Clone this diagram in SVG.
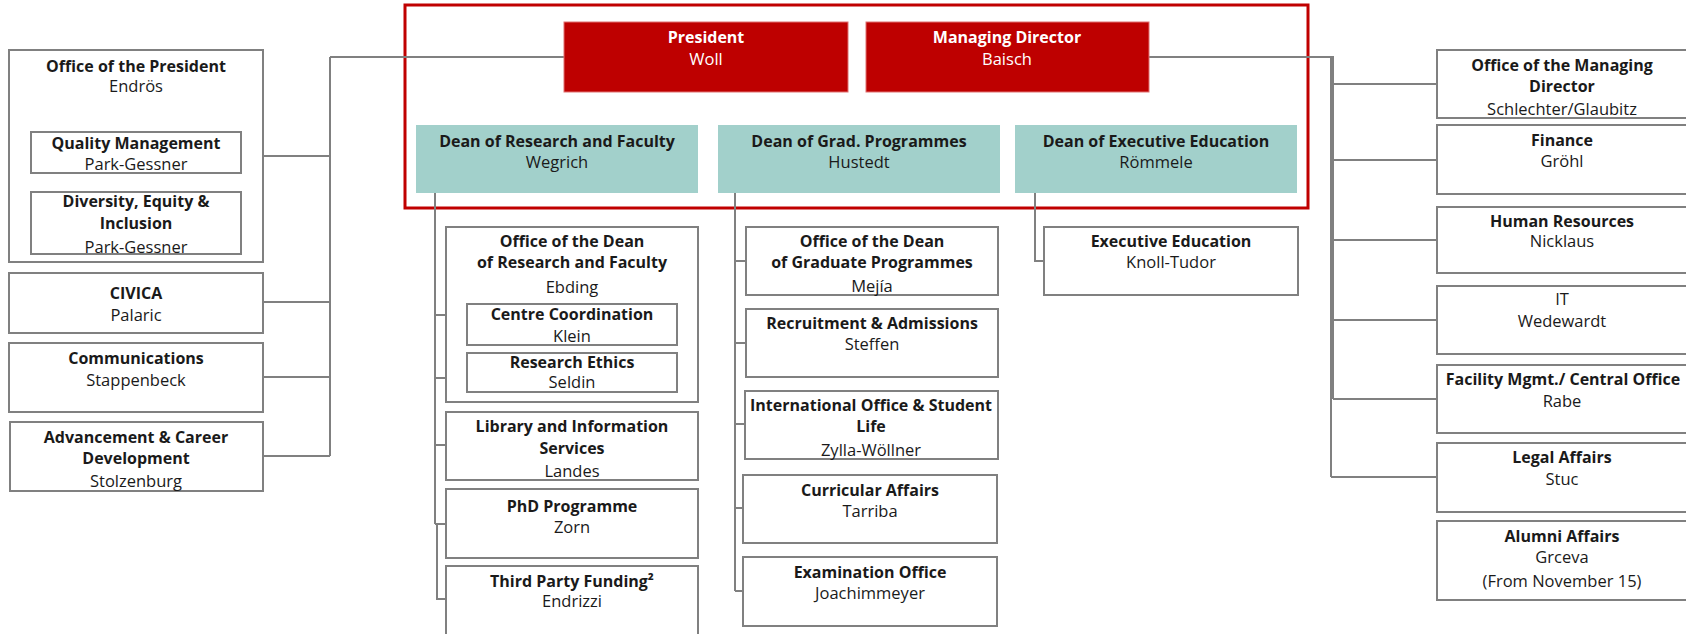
<svg xmlns="http://www.w3.org/2000/svg" width="1686" height="634" viewBox="0 0 1686 634">
<style>
text{font-family:"Open Sans","Liberation Sans",sans-serif;font-size:16.5px;text-anchor:middle;fill:#1a1a1a}
.b{font-weight:bold;font-size:16px}
.w{fill:#ffffff}
.box{fill:#ffffff;stroke:#808080;stroke-width:2}
.red{fill:#BE0000;stroke:#E07070;stroke-width:1}
.teal{fill:#A2D0CB}
.ln{stroke:#808080;stroke-width:2;fill:none}
</style>
<rect x="0" y="0" width="1686" height="634" fill="#ffffff"/>
<rect x="405" y="5" width="903" height="203" fill="none" stroke="#C00000" stroke-width="3"/>
<g id="connectors">
<path class="ln" d="M330 57H564 M330 57V456 M263 156H330 M263 302H330 M263 377H330 M263 456H330"/>
<path class="ln" d="M1149 57H1334 M1333 57V399 M1331 57V477 M1333 84H1437 M1333 160H1437 M1333 240H1437 M1333 320H1437 M1333 399H1437 M1331 477H1437"/>
<path class="ln" d="M435 193V524 M437 524V600 M435 315H446 M435 378H446 M435 445H446 M435 524H446 M437 599H446"/>
<path class="ln" d="M735 193V591 M735 261H746 M735 343H746 M735 424H746 M735 508H746 M735 591H746"/>
<path class="ln" d="M1035 193V261H1044"/>
</g>
<g id="president"><rect class="red" x="564" y="22" width="284" height="70"/><text class="b w" x="706" y="43">President</text><text class="w" x="706" y="65">Woll</text></g>
<g id="managing-director"><rect class="red" x="866" y="22" width="283" height="70"/><text class="b w" x="1007" y="43">Managing Director</text><text class="w" x="1007" y="65">Baisch</text></g>
<g id="dean-research"><rect class="teal" x="416" y="125" width="282" height="68"/><text class="b" x="557" y="147">Dean of Research and Faculty</text><text x="557" y="168">Wegrich</text></g>
<g id="dean-grad"><rect class="teal" x="718" y="125" width="282" height="68"/><text class="b" x="859" y="147">Dean of Grad. Programmes</text><text x="859" y="168">Hustedt</text></g>
<g id="dean-exec"><rect class="teal" x="1015" y="125" width="282" height="68"/><text class="b" x="1156" y="147">Dean of Executive Education</text><text x="1156" y="168">Römmele</text></g>

<g id="office-president"><rect class="box" x="9" y="50" width="254" height="212"/><text class="b" x="136" y="72">Office of the President</text><text x="136" y="92">Endrös</text></g>
<g id="quality"><rect class="box" x="31" y="132" width="210" height="41"/><text class="b" x="136" y="149">Quality Management</text><text x="136" y="170">Park-Gessner</text></g>
<g id="diversity"><rect class="box" x="31" y="192" width="210" height="62"/><text class="b" x="136" y="207">Diversity, Equity &amp;</text><text class="b" x="136" y="229">Inclusion</text><text x="136" y="253">Park-Gessner</text></g>
<g id="civica"><rect class="box" x="9" y="273" width="254" height="60"/><text class="b" x="136" y="299">CIVICA</text><text x="136" y="321">Palaric</text></g>
<g id="communications"><rect class="box" x="9" y="343" width="254" height="69"/><text class="b" x="136" y="364">Communications</text><text x="136" y="386">Stappenbeck</text></g>
<g id="advancement"><rect class="box" x="10" y="422" width="253" height="69"/><text class="b" x="136" y="443">Advancement &amp; Career</text><text class="b" x="136" y="464">Development</text><text x="136" y="487">Stolzenburg</text></g>

<g id="office-dean-research"><rect class="box" x="446" y="227" width="252" height="175"/><text class="b" x="572" y="247">Office of the Dean</text><text class="b" x="572" y="268">of Research and Faculty</text><text x="572" y="293">Ebding</text></g>
<g id="centre-coordination"><rect class="box" x="467" y="304" width="210" height="41"/><text class="b" x="572" y="320">Centre Coordination</text><text x="572" y="342">Klein</text></g>
<g id="research-ethics"><rect class="box" x="467" y="353" width="210" height="39"/><text class="b" x="572" y="368">Research Ethics</text><text x="572" y="388">Seldin</text></g>
<g id="library"><rect class="box" x="446" y="412" width="252" height="68"/><text class="b" x="572" y="432">Library and Information</text><text class="b" x="572" y="454">Services</text><text x="572" y="477">Landes</text></g>
<g id="phd"><rect class="box" x="446" y="489" width="252" height="69"/><text class="b" x="572" y="512">PhD Programme</text><text x="572" y="533">Zorn</text></g>
<g id="third-party"><rect class="box" x="446" y="566" width="252" height="70"/><text class="b" x="572" y="587">Third Party Funding²</text><text x="572" y="607">Endrizzi</text></g>

<g id="office-dean-grad"><rect class="box" x="746" y="227" width="252" height="68"/><text class="b" x="872" y="247">Office of the Dean</text><text class="b" x="872" y="268">of Graduate Programmes</text><text x="872" y="292">Mejía</text></g>
<g id="recruitment"><rect class="box" x="746" y="309" width="252" height="68"/><text class="b" x="872" y="329">Recruitment &amp; Admissions</text><text x="872" y="350">Steffen</text></g>
<g id="international"><rect class="box" x="745" y="391" width="253" height="68"/><text class="b" x="871" y="411">International Office &amp; Student</text><text class="b" x="871" y="432">Life</text><text x="871" y="456">Zylla-Wöllner</text></g>
<g id="curricular"><rect class="box" x="743" y="475" width="254" height="68"/><text class="b" x="870" y="496">Curricular Affairs</text><text x="870" y="517">Tarriba</text></g>
<g id="examination"><rect class="box" x="743" y="557" width="254" height="69"/><text class="b" x="870" y="578">Examination Office</text><text x="870" y="599">Joachimmeyer</text></g>

<g id="executive-education"><rect class="box" x="1044" y="227" width="254" height="68"/><text class="b" x="1171" y="247">Executive Education</text><text x="1171" y="268">Knoll-Tudor</text></g>

<g id="office-md"><rect class="box" x="1437" y="50" width="252" height="68"/><text class="b" x="1562" y="71">Office of the Managing</text><text class="b" x="1562" y="92">Director</text><text x="1562" y="115">Schlechter/Glaubitz</text></g>
<g id="finance"><rect class="box" x="1437" y="125" width="252" height="69"/><text class="b" x="1562" y="146">Finance</text><text x="1562" y="167">Gröhl</text></g>
<g id="hr"><rect class="box" x="1437" y="207" width="252" height="66"/><text class="b" x="1562" y="227">Human Resources</text><text x="1562" y="247">Nicklaus</text></g>
<g id="it"><rect class="box" x="1437" y="286" width="252" height="68"/><text x="1562" y="305">IT</text><text x="1562" y="327">Wedewardt</text></g>
<g id="facility"><rect class="box" x="1437" y="365" width="252" height="68"/><text class="b" x="1563" y="385">Facility Mgmt./ Central Office</text><text x="1562" y="407">Rabe</text></g>
<g id="legal"><rect class="box" x="1437" y="443" width="252" height="69"/><text class="b" x="1562" y="463">Legal Affairs</text><text x="1562" y="485">Stuc</text></g>
<g id="alumni"><rect class="box" x="1437" y="521" width="252" height="79"/><text class="b" x="1562" y="542">Alumni Affairs</text><text x="1562" y="563">Grceva</text><text x="1562" y="587">(From November 15)</text></g>
</svg>
